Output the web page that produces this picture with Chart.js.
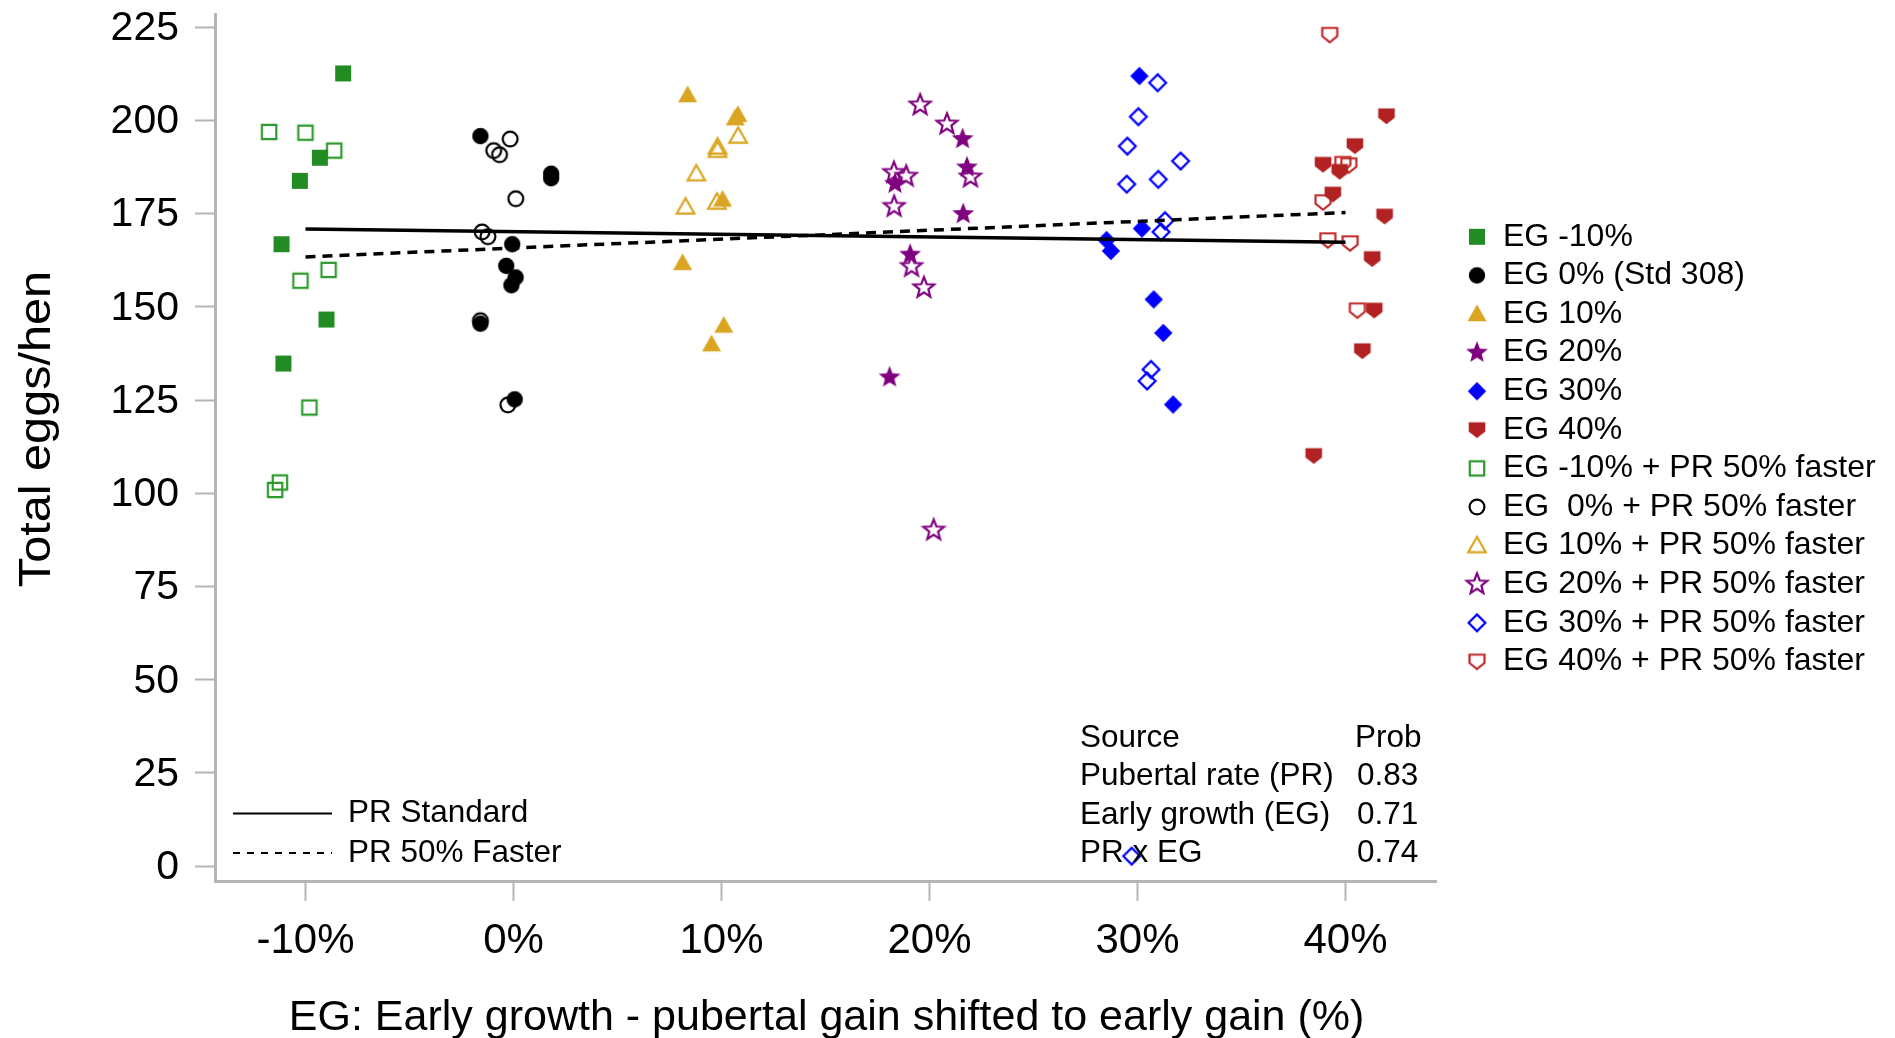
<!DOCTYPE html>
<html>
<head>
<meta charset="utf-8">
<script src="https://cdn.jsdelivr.net/npm/chart.js@4.4.1/dist/chart.umd.min.js"></script>
<style>
  html, body { margin: 0; padding: 0; background: #fff; overflow: hidden; }
  canvas { display: block; }
</style>
</head>
<body>
<canvas id="c" width="1895" height="1038"></canvas>
<script>
// ---- axis ticks ----
const xTicks = [-10, 0, 10, 20, 30, 40];
const yTicks = [0, 25, 50, 75, 100, 125, 150, 175, 200, 225];

// ---- per-hen egg totals: [early-growth shift (%), total eggs] ----
const egM10 = [[-8.19, 212.6], [-9.31, 190.0], [-10.27, 183.8], [-11.15, 166.8], [-8.99, 146.6], [-11.06, 134.8]];
const eg0 = [[-1.59, 195.8], [1.81, 185.7], [1.81, 184.5], [-0.06, 166.8], [-0.35, 161.0], [0.10, 157.9], [-0.10, 155.8], [-1.59, 145.5], [0.06, 125.2]];
const eg10 = [[8.37, 206.8], [10.79, 201.5], [10.66, 200.6], [10.05, 178.8], [8.13, 161.8], [10.11, 145.0], [9.52, 140.0]];
const eg20 = [[21.59, 195.0], [21.80, 187.4], [18.34, 183.0], [21.62, 174.9], [19.07, 164.0], [18.08, 131.1]];
const eg30 = [[30.09, 211.9], [30.21, 171.0], [28.51, 167.9], [28.72, 165.0], [30.78, 152.0], [31.24, 143.0], [31.71, 123.8]];
const eg40 = [[41.97, 201.2], [40.45, 193.2], [38.92, 188.2], [39.72, 186.3], [39.39, 180.2], [41.88, 174.3], [41.28, 162.9], [41.38, 149.1], [40.81, 138.2], [38.47, 110.1]];
const egM10Fast = [[-11.75, 196.9], [-10.00, 196.7], [-8.62, 191.9], [-8.89, 159.9], [-10.24, 157.0], [-9.81, 123.0], [-11.23, 102.9], [-11.46, 100.9]];
const eg0Fast = [[-0.16, 195.0], [-0.95, 191.9], [-0.67, 190.8], [0.11, 179.0], [-1.51, 170.1], [-1.23, 168.8], [-1.59, 146.3], [-0.27, 123.7]];
const eg10Fast = [[10.80, 195.8], [9.81, 192.9], [9.81, 192.0], [8.79, 185.7], [8.27, 176.8], [9.78, 178.1]];
const eg20Fast = [[19.55, 204.1], [20.84, 199.0], [18.29, 186.0], [18.88, 185.0], [21.97, 184.8], [18.30, 176.9], [19.14, 160.8], [19.73, 155.1], [20.20, 90.1]];
const eg30Fast = [[30.97, 210.1], [30.04, 201.0], [29.51, 193.1], [32.07, 189.1], [29.48, 182.9], [31.00, 184.2], [31.32, 173.1], [31.13, 170.1], [30.65, 133.2], [30.46, 130.1], [29.72, 2.7]];
const eg40Fast = [[39.24, 223.0], [39.87, 188.4], [40.16, 188.0], [38.92, 178.1], [39.15, 167.9], [40.22, 167.1], [40.57, 149.1]];

// ---- fitted lines (endpoints at EG -10% and 40%) ----
const fitStandard = [[-10, 170.9], [40, 167.3]];
const fitFaster = [[-10, 163.4], [40, 175.3]];

// ---- labels ----
const seriesNames = [
  'EG -10%', 'EG 0% (Std 308)', 'EG 10%', 'EG 20%', 'EG 30%', 'EG 40%',
  'EG -10% + PR 50% faster', 'EG  0% + PR 50% faster', 'EG 10% + PR 50% faster',
  'EG 20% + PR 50% faster', 'EG 30% + PR 50% faster', 'EG 40% + PR 50% faster'
];
const lineNames = ['PR Standard', 'PR 50% Faster'];
const tableHead = ['Source', 'Prob'];
const tableSources = ['Pubertal rate (PR)', 'Early growth (EG)', 'PR x EG'];
const tableProbs = ['0.83', '0.71', '0.74'];
const xTitle = 'EG: Early growth - pubertal gain shifted to early gain (%)';
const yTitle = 'Total eggs/hen';

const FONT = '"Liberation Sans", Arial, sans-serif';

// ---- marker glyphs ----
function makeMarker(shape, color, filled) {
  const S = 30;
  const cv = document.createElement('canvas');
  cv.width = S; cv.height = S;
  const g = cv.getContext('2d');
  g.translate(S / 2, S / 2);
  g.beginPath();
  if (shape === 'square') {
    const h = filled ? 8.0 : 7.2;
    g.rect(-h, -h, 2 * h, 2 * h);
  } else if (shape === 'circle') {
    g.arc(0, 0, filled ? 8.2 : 7.4, 0, Math.PI * 2);
  } else if (shape === 'triangle') {
    const w = filled ? 9.5 : 8.8;
    g.moveTo(0, -w * 1.0);
    g.lineTo(w, w * 0.75);
    g.lineTo(-w, w * 0.75);
    g.closePath();
  } else if (shape === 'star') {
    const R = filled ? 11.5 : 10.8, r = R * 0.43;
    for (let k = 0; k < 10; k++) {
      const a = -Math.PI / 2 + k * Math.PI / 5;
      const rr = k % 2 ? r : R;
      g.lineTo(rr * Math.cos(a), rr * Math.sin(a));
    }
    g.closePath();
  } else if (shape === 'diamond') {
    const d = filled ? 9.2 : 8.4;
    g.moveTo(0, -d); g.lineTo(d, 0); g.lineTo(0, d); g.lineTo(-d, 0);
    g.closePath();
  } else if (shape === 'shield') {
    const w = filled ? 8.3 : 7.5;
    g.moveTo(-w, -w * 0.9);
    g.lineTo(w, -w * 0.9);
    g.lineTo(w, w * 0.2);
    g.lineTo(0, w * 1.0);
    g.lineTo(-w, w * 0.2);
    g.closePath();
  }
  if (filled) {
    g.fillStyle = color;
    g.fill();
  } else {
    g.strokeStyle = color;
    g.lineWidth = 2.2;
    g.lineJoin = 'miter';
    g.stroke();
  }
  return cv;
}

const markers = [
  makeMarker('square', '#228B22', true),
  makeMarker('circle', '#000000', true),
  makeMarker('triangle', '#DAA520', true),
  makeMarker('star', '#800080', true),
  makeMarker('diamond', '#0000FF', true),
  makeMarker('shield', '#B22222', true),
  makeMarker('square', '#2E9A2E', false),
  makeMarker('circle', '#000000', false),
  makeMarker('triangle', '#DAA520', false),
  makeMarker('star', '#800080', false),
  makeMarker('diamond', '#0000FF', false),
  makeMarker('shield', '#C02828', false)
];

const seriesData = [egM10, eg0, eg10, eg20, eg30, eg40, egM10Fast, eg0Fast, eg10Fast, eg20Fast, eg30Fast, eg40Fast];
const toPts = arr => arr.map(p => ({ x: p[0], y: p[1] }));

const datasets = seriesData.map((arr, i) => ({
  label: seriesNames[i],
  data: toPts(arr),
  pointStyle: markers[i],
  pointRadius: 8,
  pointHoverRadius: 8,
  showLine: false,
  order: 2
}));
datasets.push({
  label: lineNames[0], data: toPts(fitStandard), showLine: true, pointRadius: 0,
  borderColor: '#000', borderWidth: 3.5, order: 1
});
datasets.push({
  label: lineNames[1], data: toPts(fitFaster), showLine: true, pointRadius: 0,
  borderColor: '#000', borderWidth: 3.5, borderDash: [10, 7], order: 1
});

// ---- axis titles, legends and the probability table ----
const overlay = {
  id: 'overlay',
  afterDraw(chart) {
    const c = chart.ctx;
    c.save();
    c.fillStyle = '#000';

    // axis titles
    c.textBaseline = 'alphabetic';
    c.textAlign = 'center';
    c.font = '43px ' + FONT;
    c.fillText(xTitle, 826.6, 1030);
    c.save();
    c.translate(50, 429);
    c.rotate(-Math.PI / 2);
    c.scale(1.105, 1);
    c.font = '44px ' + FONT;
    c.fillText(yTitle, 0, 0);
    c.restore();

    c.textBaseline = 'middle';
    c.textAlign = 'left';

    // series legend
    c.font = '32px ' + FONT;
    seriesNames.forEach((name, i) => {
      const y = 236.8 + i * 38.6;
      const m = markers[i];
      c.drawImage(m, 1477 - m.width / 2, y - m.height / 2);
      c.fillText(name, 1503, y);
    });

    // line legend
    c.strokeStyle = '#000';
    c.lineWidth = 2;
    c.beginPath(); c.moveTo(233, 813.5); c.lineTo(332, 813.5); c.stroke();
    c.setLineDash([7, 7]);
    c.beginPath(); c.moveTo(233, 853); c.lineTo(332, 853); c.stroke();
    c.setLineDash([]);
    c.font = '31.5px ' + FONT;
    c.fillText(lineNames[0], 348, 813.5);
    c.fillText(lineNames[1], 348, 853);

    // test table
    const rows = [738, 776.5, 815, 853.5];
    c.fillText(tableHead[0], 1080, rows[0]);
    c.fillText(tableHead[1], 1355, rows[0]);
    tableSources.forEach((s, i) => {
      c.fillText(s, 1080, rows[i + 1]);
      c.fillText(tableProbs[i], 1357, rows[i + 1]);
    });
    c.restore();
  }
};

const axisGrey = '#B4B4B4';

new Chart(document.getElementById('c'), {
  type: 'scatter',
  data: { datasets },
  options: {
    responsive: false,
    animation: false,
    devicePixelRatio: 1,
    events: [],
    layout: { padding: { top: 14.5, right: 459, bottom: 0, left: 0 }, autoPadding: false },
    plugins: { legend: { display: false }, tooltip: { enabled: false } },
    scales: {
      x: {
        type: 'linear',
        min: -14.35, max: 44.35,
        afterBuildTicks: s => { s.ticks = xTicks.map(v => ({ value: v })); },
        afterFit: s => { s.height = 1038 - 881.9; s.paddingLeft = 0; s.paddingRight = 0; },
        grid: { display: true, drawOnChartArea: false, drawTicks: true, tickLength: 19, tickWidth: 2, tickColor: axisGrey },
        border: { display: true, color: axisGrey, width: 3 },
        ticks: {
          autoSkip: false, maxRotation: 0, padding: 15, color: '#000',
          font: { family: FONT, size: 42 },
          callback: v => v + '%'
        },
        title: { display: false }
      },
      y: {
        type: 'linear',
        min: -4.21, max: 228.4,
        afterBuildTicks: s => { s.ticks = yTicks.map(v => ({ value: v })); },
        afterFit: s => { s.width = 215; s.paddingTop = 0; s.paddingBottom = 0; },
        grid: { display: true, drawOnChartArea: false, drawTicks: true, tickLength: 20, tickWidth: 2, tickColor: axisGrey },
        border: { display: true, color: axisGrey, width: 3 },
        ticks: { autoSkip: false, padding: 16, labelOffset: 1.5, color: '#000', font: { family: FONT, size: 41 } },
        title: { display: false }
      }
    }
  },
  plugins: [overlay]
});
</script>
</body>
</html>
